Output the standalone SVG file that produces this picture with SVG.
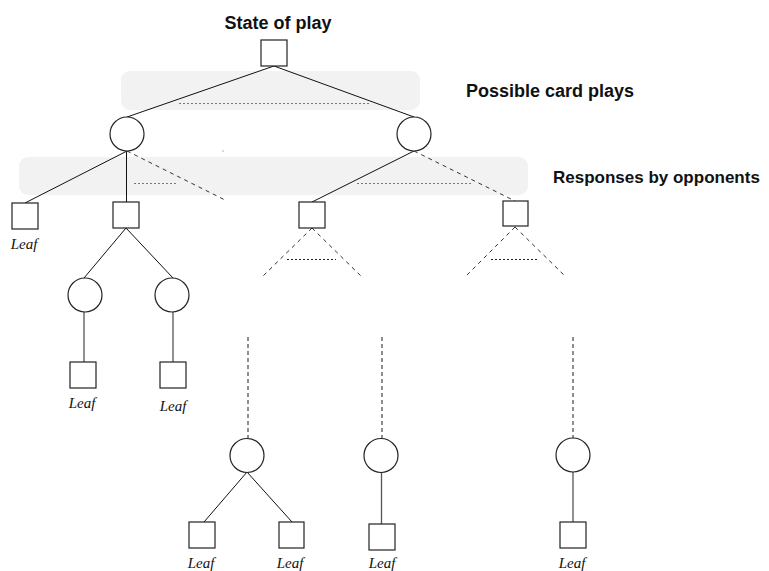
<svg xmlns="http://www.w3.org/2000/svg" width="769" height="571" viewBox="0 0 769 571">
<style>
.band{fill:#f2f2f2;stroke:none}
.sq{fill:#fff;stroke:#222;stroke-width:1.2}
.ci{fill:#fff;stroke:#222;stroke-width:1.2}
.ln{stroke:#111;stroke-width:1;fill:none}
.vl{stroke:#555;stroke-width:1.3;fill:none}
.da{stroke:#333;stroke-width:1;stroke-dasharray:4,4;fill:none}
.dv{stroke:#444;stroke-width:1.2;stroke-dasharray:4,3;fill:none}
.dt{stroke:#777;stroke-width:1;stroke-dasharray:2,2;fill:none}
.dt2{stroke:#222;stroke-width:1;stroke-dasharray:2,2;fill:none}
.hd{font-family:"Liberation Sans",Arial,sans-serif;font-weight:bold;font-size:18px;fill:#111}
.hd2{font-family:"Liberation Sans",Arial,sans-serif;font-weight:bold;font-size:17px;fill:#111}
.lf{font-family:"Liberation Serif","Times New Roman",serif;font-style:italic;font-size:15px;fill:#111}
</style>
<rect class="band" x="121" y="71" width="299" height="39" rx="9"/>
<rect class="band" x="19" y="157" width="509" height="38" rx="9"/>
<text class="hd" x="278" y="29" text-anchor="middle">State of play</text>
<text class="hd" x="466" y="97">Possible card plays</text>
<text class="hd2" x="553" y="183">Responses by opponents</text>
<rect x="222.5" y="150.5" width="1" height="1" fill="#666"/>
<g id="connectors">
<line class="dt" x1="179" y1="103.5" x2="369" y2="103.5"/>
<line class="dt" x1="134" y1="183.5" x2="178" y2="183.5"/>
<line class="dt" x1="357" y1="183.5" x2="473" y2="183.5"/>
<line class="ln" x1="274" y1="66" x2="127" y2="117"/>
<line class="ln" x1="274" y1="66" x2="414" y2="117"/>
<line class="ln" x1="127" y1="151" x2="25" y2="203"/>
<line class="ln" x1="126.5" y1="151" x2="126.5" y2="202"/>
<line class="da" x1="127" y1="151" x2="227" y2="201"/>
<line class="ln" x1="414" y1="151" x2="312" y2="202"/>
<line class="da" x1="414" y1="151" x2="515" y2="201"/>
<line class="da" x1="312" y1="228" x2="261" y2="278"/>
<line class="da" x1="312" y1="228" x2="363" y2="278"/>
<line class="dt2" x1="287" y1="259.5" x2="336" y2="259.5"/>
<line class="da" x1="515" y1="227" x2="465" y2="277"/>
<line class="da" x1="515" y1="227" x2="566" y2="277"/>
<line class="dt2" x1="491" y1="259.5" x2="539" y2="259.5"/>
<line class="ln" x1="126" y1="228" x2="84" y2="278"/>
<line class="ln" x1="126" y1="228" x2="173" y2="278"/>
<line class="vl" x1="84" y1="312" x2="84" y2="362"/>
<line class="vl" x1="173" y1="312" x2="173" y2="362"/>
<line class="dv" x1="248" y1="337" x2="248" y2="438"/>
<line class="dv" x1="382" y1="337" x2="382" y2="438"/>
<line class="dv" x1="573" y1="337" x2="573" y2="438"/>
<line class="ln" x1="247" y1="472" x2="204" y2="522"/>
<line class="ln" x1="247" y1="472" x2="292" y2="522"/>
<line class="vl" x1="381.5" y1="472" x2="381.5" y2="524"/>
<line class="vl" x1="573" y1="472" x2="573" y2="522"/>
</g>
<g id="root"><rect class="sq" x="261" y="40" width="26" height="26"/></g>
<g id="play1"><circle class="ci" cx="127" cy="134" r="17"/></g>
<g id="play2"><circle class="ci" cx="414" cy="134" r="17"/></g>
<g id="leaf1"><rect class="sq" x="12" y="203" width="26" height="26"/><text class="lf" x="24" y="249" text-anchor="middle">Leaf</text></g>
<g id="resp2"><rect class="sq" x="113" y="202" width="26" height="26"/></g>
<g id="resp3"><rect class="sq" x="299" y="202" width="26" height="26"/></g>
<g id="resp4"><rect class="sq" x="503" y="201" width="25" height="25"/></g>
<g id="play3"><circle class="ci" cx="85" cy="295" r="17"/></g>
<g id="play4"><circle class="ci" cx="172" cy="295" r="17"/></g>
<g id="leaf2"><rect class="sq" x="70" y="362" width="26" height="26"/><text class="lf" x="82" y="408" text-anchor="middle">Leaf</text></g>
<g id="leaf3"><rect class="sq" x="160" y="362" width="26" height="26"/><text class="lf" x="173" y="411" text-anchor="middle">Leaf</text></g>
<g id="play5"><circle class="ci" cx="247" cy="455.5" r="17"/></g>
<g id="play6"><circle class="ci" cx="381" cy="455.5" r="17"/></g>
<g id="play7"><circle class="ci" cx="573" cy="455" r="17"/></g>
<g id="leaf4"><rect class="sq" x="189" y="522" width="26" height="26"/><text class="lf" x="201" y="568" text-anchor="middle">Leaf</text></g>
<g id="leaf5"><rect class="sq" x="279" y="522" width="25" height="26"/><text class="lf" x="290" y="568" text-anchor="middle">Leaf</text></g>
<g id="leaf6"><rect class="sq" x="369" y="524" width="26" height="26"/><text class="lf" x="382" y="568" text-anchor="middle">Leaf</text></g>
<g id="leaf7"><rect class="sq" x="560" y="522" width="26" height="26"/><text class="lf" x="572" y="568" text-anchor="middle">Leaf</text></g>
</svg>
